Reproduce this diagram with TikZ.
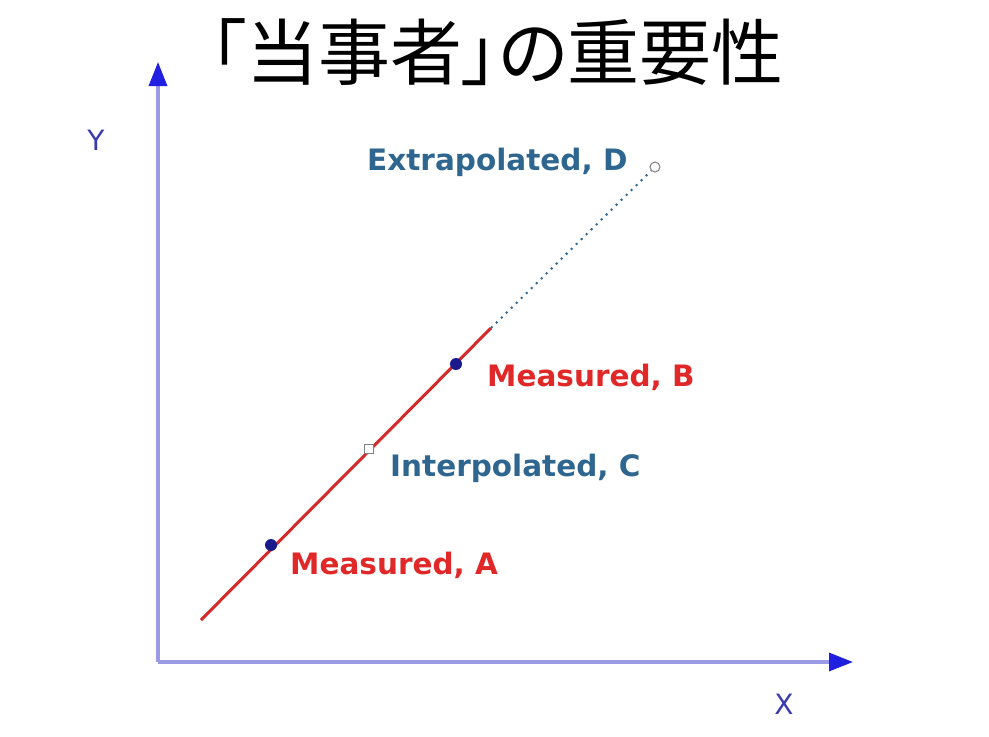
\documentclass[tikz,border=0pt]{standalone}
\usepackage{fontspec}
\setmainfont{DejaVu Sans}
\newfontfamily\cjk[RawFeature=+palt]{Noto Sans CJK JP}
\usetikzlibrary{arrows.meta}
\definecolor{axisline}{HTML}{9A9AE6}
\definecolor{axistip}{HTML}{2020E0}
\definecolor{axislab}{HTML}{3A3AB0}
\definecolor{redline}{HTML}{D42A2A}
\definecolor{redtext}{HTML}{E02828}
\definecolor{bluetext}{HTML}{2E6690}
\definecolor{dotblue}{HTML}{1A1A8C}
\tikzset{
  axis/.style={line width=3.2pt, draw=axisline, -{Triangle[length=24pt,width=18pt,fill=axistip,color=axistip]}},
  meas/.style={circle, fill=dotblue, inner sep=0pt, minimum size=12pt},
  interp/.style={rectangle, draw=gray, fill=white, line width=1pt, inner sep=0pt, minimum size=9pt},
  extrap/.style={circle, draw=gray, fill=white, line width=1pt, inner sep=0pt, minimum size=10pt},
  redlab/.style={font=\fontsize{29.5}{32}\selectfont\bfseries, text=redtext, inner sep=0pt},
  bluelab/.style={font=\fontsize{29.5}{32}\selectfont\bfseries, text=bluetext, inner sep=0pt},
  axlab/.style={font=\fontsize{28}{30}\selectfont, text=axislab, inner sep=0pt},
}
\begin{document}
\begin{tikzpicture}[x=1pt,y=-1pt]
\useasboundingbox (0,0) rectangle (989,737);
\node[font=\cjk\fontsize{72}{80}\selectfont, inner sep=0pt] (title) at (497,52) {「当事者」の重要性};
\coordinate (O) at (158,662);
\coordinate (ytip) at (158,62);
\coordinate (xtip) at (853,662);
\draw[axis] (O) -- (ytip);
\draw[axis] (O) -- (xtip);
\node[axlab] (ylab) at (96,140) {Y};
\node[axlab] (xlab) at (784,704) {X};
\coordinate (lo) at (201,620);
\coordinate (hi) at (491,328);
\draw[line width=3pt, draw=redline] (lo) -- (hi);
\node[extrap] (D) at (655,167) {};
\draw[line width=2pt, draw=bluetext, dash pattern=on 2pt off 5pt] (hi) -- (D);
\node[meas] (A) at (271,545) {};
\node[meas] (B) at (456,364) {};
\node[interp] (C) at (369,449) {};
\node[redlab, anchor=west] (lA) at (290,565) {Measured, A};
\node[redlab, anchor=west] (lB) at (487,377) {Measured, B};
\node[bluelab, anchor=west] (lC) at (390,468) {Interpolated, C};
\node[bluelab, anchor=west] (lD) at (367,162) {Extrapolated, D};
\end{tikzpicture}
\end{document}
